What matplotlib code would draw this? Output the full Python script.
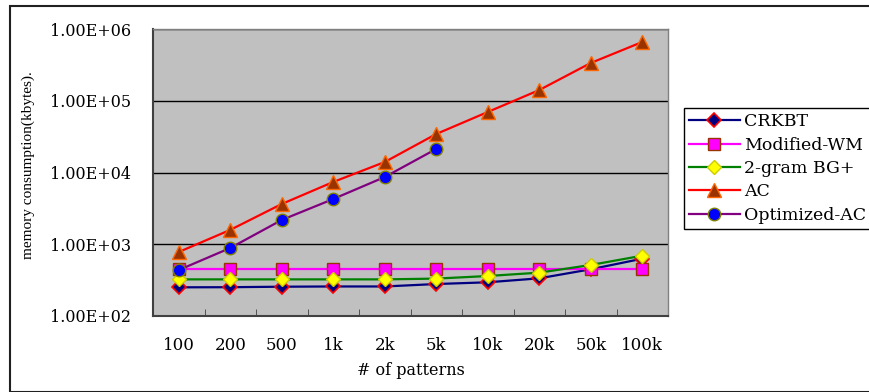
import matplotlib
matplotlib.use("Agg")
import matplotlib.pyplot as plt
from matplotlib.patches import Rectangle

categories = ["100", "200", "500", "1k", "2k", "5k", "10k", "20k", "50k", "100k"]
crkbt = [251, 252, 256, 258, 258, 279, 295, 335, 448, 629]
modified_wm = [445, 445, 445, 445, 445, 445, 445, 445, 445, 445]
bg2gram = [324, 324, 324, 324, 324, 332, 361, 402, 514, 693]
ac = [780, 1585, 3640, 7380, 14000, 34400, 69700, 141000, 336000, 659000]
opt_ac = [437, 887, 2180, 4270, 8650, 21300]
y_ticks = [1e2, 1e3, 1e4, 1e5, 1e6]
y_ticklabels = ["1.00E+02", "1.00E+03", "1.00E+04", "1.00E+05", "1.00E+06"]

plt.rcParams['font.family'] = ['DejaVu Serif', 'Liberation Serif']

fig = plt.figure(figsize=(8.69, 3.92), dpi=100)
ax = fig.add_axes([153/869, 1-316/392, (668-153)/869, (316-29)/392])
ax.set_facecolor("#c0c0c0")

x = list(range(len(categories)))
ax.plot(x, crkbt, color="#000080", lw=1.6, marker="D", ms=7, mfc="#000080", mec="#ff0000", mew=1.2, label="CRKBT", zorder=3)
ax.plot(x, modified_wm, color="#ff00ff", lw=1.6, marker="s", ms=8.5, mfc="#ff00ff", mec="#993300", mew=1.0, label="Modified-WM", zorder=3)
ax.plot(x, bg2gram, color="#008000", lw=1.6, marker="D", ms=7.5, mfc="#ffff00", mec="#cccc00", mew=1.0, label="2-gram BG+", zorder=3)
ax.plot(x, ac, color="#ff0000", lw=1.6, marker="^", ms=10, mfc="#993300", mec="#ff6600", mew=1.0, label="AC", zorder=3)
ax.plot(x[:len(opt_ac)], opt_ac, color="#800080", lw=1.6, marker="o", ms=9, mfc="#0000ff", mec="#808000", mew=1.0, label="Optimized-AC", zorder=3)

ax.set_yscale("log")
ax.set_ylim(1e2, 1e6)
ax.set_yticks(y_ticks)
ax.set_yticklabels(y_ticklabels, fontsize=11.5)
ax.yaxis.set_minor_locator(matplotlib.ticker.NullLocator())
ax.tick_params(axis="y", length=0, pad=16)
ax.grid(axis="y", which="major", color="black", lw=1.0)
ax.set_axisbelow(True)

ax.set_xlim(-0.5, len(categories) - 0.5)
ax.set_xticks(x)
ax.set_xticklabels(categories, fontsize=12)
ax.set_xticks([i + 0.5 for i in range(len(categories) - 1)], minor=True)
ax.tick_params(axis="x", which="major", length=0, pad=15)
ax.tick_params(axis="x", which="minor", length=5, direction="in", color="#404040")

for s in ["left", "bottom"]:
    ax.spines[s].set_color("#404040")
    ax.spines[s].set_linewidth(1.5)
for s in ["top", "right"]:
    ax.spines[s].set_color("#808080")
    ax.spines[s].set_linewidth(1.0)

ax.set_xlabel("# of patterns", fontsize=11.5, labelpad=6)
fig.text(28/869, 1-165/392, "memory consumption(kbytes).", rotation=90, fontsize=11,
         ha="center", va="center", family=["Liberation Serif"])

leg = fig.legend(loc="upper left", bbox_to_anchor=(684/869, 1-108/392), fontsize=12.5,
                 frameon=True, fancybox=False, edgecolor="black", framealpha=1,
                 handlelength=2.9, borderpad=0.3, labelspacing=0.37, handletextpad=0.25,
                 borderaxespad=0)
leg.get_frame().set_linewidth(1.0)

fig.patches.append(Rectangle((10/869, 0), 1, 1-6/392, transform=fig.transFigure,
                             fill=False, edgecolor="#202020", lw=1.5))

fig.savefig("out.png", dpi=100)
